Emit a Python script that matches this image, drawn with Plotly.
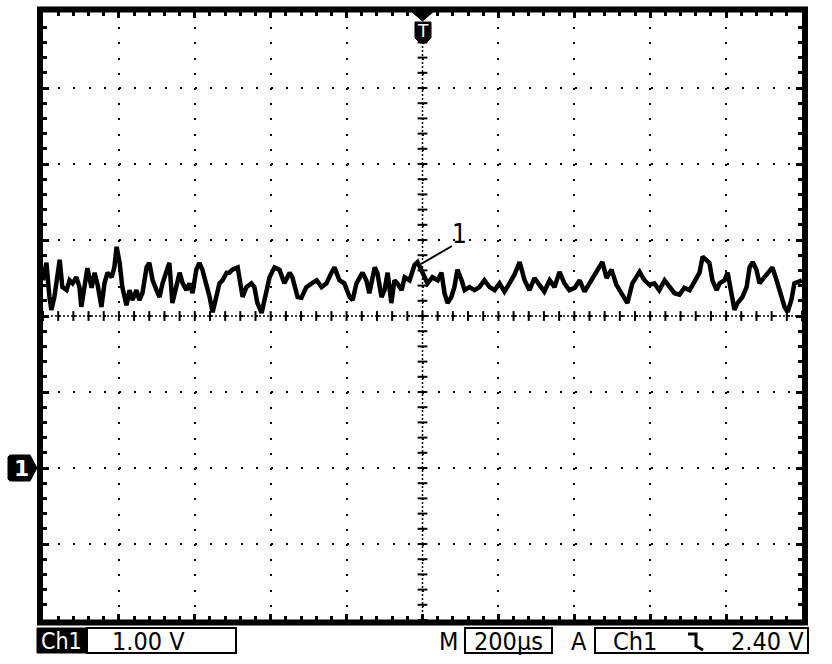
import plotly.graph_objects as go

# --- data (Ch1, 1.00 V/div, 200 us/div, trigger at t=0) ---
time_us = [-1000, -991, -983, -978, -970, -956, -949, -938, -930, -922, -912, -904, -899, -891, -883,
           -872, -864, -856, -846, -838, -830, -819, -812, -806, -798, -791, -780, -772, -764, -754,
           -746, -738, -727, -720, -711, -701, -693, -685, -675, -667, -659, -648, -640, -632, -622,
           -614, -606, -596, -588, -580, -569, -561, -553, -543, -535, -527, -516, -509, -501, -487,
           -474, -464, -451, -443, -435, -424, -416, -403, -390, -377, -364, -350, -343, -329, -319,
           -306, -292, -279, -266, -253, -240, -232, -219, -206, -192, -184, -174, -166, -158, -148,
           -140, -126, -119, -108, -100, -92, -82, -74, -66, -55, -47, -34, -21, -13, 0,
           13, 26, 40, 50, 58, 66, 76, 84, 92, 103, 111, 124, 137, 150, 163,
           177, 190, 203, 216, 229, 242, 256, 269, 282, 295, 308, 321, 335, 348, 361,
           374, 387, 401, 414, 427, 440, 453, 466, 474, 485, 498, 511, 524, 540, 553,
           572, 585, 598, 611, 624, 638, 651, 664, 677, 690, 704, 717, 730, 738, 748,
           756, 764, 775, 783, 796, 804, 814, 822, 830, 843, 854, 862, 870, 880, 888,
           901, 914, 922, 933, 941, 954, 962, 972, 980, 988, 1000]
volts = [2.47, 2.70, 2.25, 2.08, 2.25, 2.74, 2.38, 2.34, 2.47, 2.43, 2.51, 2.38, 2.12, 2.43, 2.63,
         2.37, 2.57, 2.41, 2.12, 2.43, 2.57, 2.51, 2.64, 2.91, 2.70, 2.38, 2.14, 2.34, 2.21, 2.34,
         2.21, 2.30, 2.64, 2.70, 2.47, 2.34, 2.25, 2.43, 2.61, 2.70, 2.17, 2.43, 2.57, 2.43, 2.34,
         2.43, 2.30, 2.61, 2.70, 2.61, 2.43, 2.25, 2.05, 2.25, 2.43, 2.47, 2.57, 2.57, 2.61, 2.64,
         2.25, 2.38, 2.43, 2.38, 2.17, 2.04, 2.21, 2.51, 2.64, 2.61, 2.43, 2.57, 2.51, 2.25, 2.24,
         2.38, 2.43, 2.47, 2.38, 2.43, 2.57, 2.64, 2.47, 2.43, 2.25, 2.21, 2.43, 2.51, 2.57, 2.47,
         2.30, 2.64, 2.57, 2.25, 2.34, 2.57, 2.17, 2.47, 2.43, 2.34, 2.51, 2.47, 2.67, 2.71, 2.57,
         2.43, 2.51, 2.47, 2.57, 2.30, 2.17, 2.25, 2.38, 2.61, 2.47, 2.34, 2.38, 2.34, 2.38, 2.47,
         2.38, 2.34, 2.43, 2.32, 2.43, 2.54, 2.71, 2.47, 2.34, 2.50, 2.41, 2.32, 2.47, 2.38, 2.58,
         2.43, 2.34, 2.37, 2.47, 2.32, 2.43, 2.54, 2.63, 2.71, 2.50, 2.61, 2.41, 2.30, 2.17, 2.43,
         2.58, 2.47, 2.41, 2.43, 2.34, 2.47, 2.38, 2.30, 2.28, 2.37, 2.34, 2.45, 2.57, 2.78, 2.74,
         2.70, 2.47, 2.34, 2.43, 2.47, 2.57, 2.25, 2.08, 2.17, 2.25, 2.38, 2.64, 2.71, 2.61, 2.43,
         2.51, 2.61, 2.64, 2.47, 2.34, 2.12, 2.05, 2.21, 2.43, 2.45, 2.47]

ch_label = "Ch1"
volts_div = "1.00 V"
time_div = "200µs"
trig_source = "Ch1"
trig_level = "2.40 V"

W, H = 832, 664
L, R, T, B = 43, 30, 12, 44
PW, PH = W - L - R, H - T - B


def px(x):
    return (x - L) / PW


def py(y):
    return (H - B - y) / PH


FONT = "DejaVu Sans Condensed, Liberation Sans Narrow, Arial Narrow, sans-serif"

fig = go.Figure()

# center crosshair ticks
fig.add_trace(go.Scatter(
    x=[0] * 41, y=[-2 + 0.2 * i for i in range(41)], mode="markers",
    marker=dict(symbol="line-ew", size=7, line=dict(width=2, color="black")),
    hoverinfo="skip", showlegend=False))
fig.add_trace(go.Scatter(
    x=[-1000 + 40 * i for i in range(51)], y=[2] * 51, mode="markers",
    marker=dict(symbol="line-ns", size=7, line=dict(width=2, color="black")),
    hoverinfo="skip", showlegend=False))

# signal trace
fig.add_trace(go.Scatter(x=time_us, y=volts, mode="lines",
                         line=dict(color="black", width=4.5),
                         hoverinfo="skip", showlegend=False))

shapes = []
# dense center lines
shapes.append(dict(type="line", xref="x", yref="paper", x0=0, x1=0, y0=0, y1=1,
                   line=dict(color="black", width=1.5, dash="2px,2px")))
shapes.append(dict(type="line", xref="paper", yref="y", x0=0, x1=1, y0=2, y1=2,
                   line=dict(color="black", width=1.5, dash="2px,2px")))
# outer frame
shapes.append(dict(type="rect", xref="paper", yref="paper",
                   x0=px(40), x1=px(805), y0=py(622.5), y1=py(9.5),
                   line=dict(color="black", width=6)))
# trigger position marker
shapes.append(dict(type="path", xref="paper", yref="paper",
                   path=f"M {px(412)},{py(12)} L {px(433)},{py(12)} L {px(422.5)},{py(21)} Z",
                   fillcolor="black", line=dict(color="black", width=1)))
shapes.append(dict(type="path", xref="paper", yref="paper",
                   path=(f"M {px(415)},{py(22)} L {px(431)},{py(22)} L {px(431)},{py(38)} "
                         f"L {px(426)},{py(43)} L {px(420)},{py(43)} L {px(415)},{py(38)} Z"),
                   fillcolor="black", line=dict(color="black", width=1)))
# ground marker
shapes.append(dict(type="path", xref="paper", yref="paper",
                   path=(f"M {px(10)},{py(455)} L {px(30)},{py(455)} L {px(37)},{py(468)} "
                         f"L {px(30)},{py(481)} L {px(10)},{py(481)} L {px(8)},{py(479)} L {px(8)},{py(457)} Z"),
                   fillcolor="black", line=dict(color="black", width=1)))
# annotation leader for "1"
shapes.append(dict(type="line", xref="paper", yref="paper",
                   x0=px(452), y0=py(246), x1=px(421), y1=py(264),
                   line=dict(color="black", width=2)))
# bottom status boxes
shapes.append(dict(type="rect", xref="paper", yref="paper",
                   x0=px(37), x1=px(86), y0=py(653), y1=py(628),
                   fillcolor="black", line=dict(color="black", width=1)))
for x0, x1 in [(87, 236), (465, 552), (595, 808)]:
    shapes.append(dict(type="rect", xref="paper", yref="paper",
                       x0=px(x0), x1=px(x1), y0=py(653), y1=py(628),
                       line=dict(color="black", width=2)))
# falling-edge trigger slope symbol
shapes.append(dict(type="path", xref="paper", yref="paper",
                   path=(f"M {px(688)},{py(634)} L {px(696)},{py(634)} L {px(696)},{py(646)} "
                         f"L {px(703)},{py(650)}"),
                   line=dict(color="black", width=3)))


def ann(x, y, text, size=25, color="black", xanchor="center", family=FONT):
    return dict(xref="paper", yref="paper", x=px(x), y=py(y), text=text,
                xanchor=xanchor, yanchor="middle", showarrow=False,
                font=dict(color=color, size=size, family=family))


annotations = [
    ann(423, 31, "T", size=17, color="white", family="DejaVu Sans"),
    ann(21, 468, "<b>1</b>", size=22, color="white", family="DejaVu Sans"),
    ann(459, 234, "1", size=26),
    ann(61, 641, ch_label, size=23, color="white"),
    ann(110, 641, volts_div, xanchor="left"),
    ann(448, 641, "M"),
    ann(508.5, 641, time_div),
    ann(579, 641, "A"),
    ann(611, 641, trig_source, xanchor="left"),
    ann(806, 641, trig_level, xanchor="right"),
]

axis_common = dict(showticklabels=False, zeroline=False, showline=False,
                   showgrid=True, gridcolor="black", gridwidth=2, griddash="2px,13.2px",
                   ticks="inside", ticklen=6, tickwidth=3, tickcolor="black", mirror="ticks")

fig.update_layout(
    width=W, height=H, margin=dict(l=L, r=R, t=T, b=B),
    paper_bgcolor="white", plot_bgcolor="white",
    xaxis=dict(range=[-1000, 1000], tick0=0, dtick=200,
               minor=dict(dtick=40, ticks="inside", ticklen=4, tickwidth=3, tickcolor="black",
                          showgrid=False), **axis_common),
    yaxis=dict(range=[-2, 6], tick0=0, dtick=1,
               minor=dict(dtick=0.2, ticks="inside", ticklen=4, tickwidth=3, tickcolor="black",
                          showgrid=False), **axis_common),
    shapes=shapes, annotations=annotations, showlegend=False,
)

fig.write_html("out.html", config={"displayModeBar": False},
               post_script="document.body.style.margin='0';")
